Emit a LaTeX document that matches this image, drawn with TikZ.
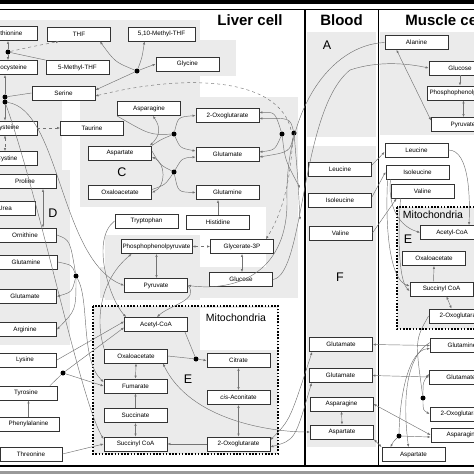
\documentclass[tikz,border=0pt]{standalone}
\usepackage{fontspec}
\setmainfont{Liberation Sans}
\usetikzlibrary{arrows.meta,calc}
\tikzset{
  box/.style={draw=black!80,fill=white,line width=0.9pt,minimum width=63pt,minimum height=14pt,inner sep=0.8pt,font=\fontsize{6.3}{7}\selectfont},
  dotn/.style={circle,fill=black,inner sep=0pt,minimum size=5pt},
  fl/.style={draw=black!55,line width=0.45pt},
  bg/.style={fill=black!8,draw=none},
  lbl/.style={font=\fontsize{12.5}{13}\selectfont},
  ttl/.style={font=\fontsize{15}{16}\selectfont\bfseries},
  mito/.style={line width=1.6pt,dash pattern=on 1.6pt off 1.6pt},
  >={Latex[length=3pt,width=2.4pt]}
}
\begin{document}
\begin{tikzpicture}[x=1pt,y=-1pt]
\useasboundingbox (0,0) rectangle (474,474);
\clip (0,0) rectangle (474,474);
% shaded areas
\fill[bg] (0,20) rectangle (200,100);
\fill[bg] (150,40) rectangle (236,76);
\fill[bg] (0,100) rectangle (62,170);
\fill[bg] (80,97) rectangle (266,207);
\fill[bg] (0,170) rectangle (70,345);
\fill[bg] (105,235) rectangle (200,300);
\fill[bg] (100,267) rectangle (298,298);
\fill[bg] (266,97) rectangle (298,298);
\fill[bg] (93,306) rectangle (278,454);
\fill[white] (200,308) rectangle (277,350);
\fill[bg] (307,32) rectangle (376,137);
\fill[bg] (307,146) rectangle (376,447);
\fill[bg] (380,32) rectangle (474,135);
\fill[bg] (397,207) rectangle (474,329);
% frame
\fill (0,0) rectangle (474,4);
\draw[line width=1pt] (0,9.5) -- (474,9.5);
\draw[line width=1.2pt] (0,466) -- (474,466);
\fill[black!40] (0,470.5) rectangle (474,474);
\draw[line width=1.2pt] (305,9.5) -- (305,466);
\draw[line width=1.2pt] (378.5,9.5) -- (378.5,466);
\node[ttl] (liver) at (250,20) {Liver cell};
\node[ttl] (blood) at (341.5,20) {Blood};
\node[ttl] (muscle) at (445.5,20) {Muscle cell};
\draw[mito] (93,306) rectangle (278,454);
\draw[mito] (397,207) rectangle (480,329);
\node[font=\fontsize{10.5}{11}\selectfont] (mitoL) at (236,318) {Mitochondria};
\node[font=\fontsize{10.5}{11}\selectfont] (mitoM) at (433,215) {Mitochondria};
\node[lbl] (labA) at (327,45) {A};
\node[lbl] (labC) at (122,172) {C};
\node[lbl] (labD) at (53,213) {D};
\node[lbl] (labE) at (188,379) {E};
\node[lbl] (labF) at (340,277) {F};
\node[lbl] (labE2) at (408,239) {E};
% liver
\node[box,minimum width=60pt] (met) at (7,33.5) {Methionine};
\node[box] (thf) at (79,34) {THF};
\node[box,minimum width=67pt] (mthf) at (161.5,34) {5,10-Methyl-THF};
\node[box,minimum width=60pt] (hcy) at (7,67.5) {Homocysteine};
\node[box] (fmthf) at (77.5,67.5) {5-Methyl-THF};
\node[box] (gly) at (187.5,64) {Glycine};
\node[box] (ser) at (63.5,93) {Serine};
\node[box,minimum width=60pt] (cys) at (7,128) {Cysteine};
\node[box] (tau) at (92,128) {Taurine};
\node[box,minimum width=60pt] (cyss) at (7,158.5) {Cystine};
\node[box] (asn) at (149,108.5) {Asparagine};
\node[box] (akg) at (227.5,115.5) {2-Oxoglutarate};
\node[box] (glu) at (227.5,154) {Glutamate};
\node[box] (asp) at (120,153) {Aspartate};
\node[box] (oaa) at (120,192.5) {Oxaloacetate};
\node[box] (gln) at (227.5,192.5) {Glutamine};
\node[box] (pro) at (25,181.5) {Proline};
\node[box,minimum width=60pt] (urea) at (5,208) {Urea};
\node[box] (orn) at (25,235) {Ornithine};
\node[box] (glnD) at (26,262) {Glutamine};
\node[box] (gluD) at (25,296.5) {Glutamate};
\node[box] (trp) at (146.5,221) {Tryptophan};
\node[box] (his) at (218,222) {Histidine};
\node[box,minimum width=71pt,inner sep=0.3pt] (pep) at (156.5,246.5) {Phosphophenolpyruvate};
\node[box] (g3p) at (242,246.5) {Glycerate-3P};
\node[box] (glc) at (241,279.5) {Glucose};
\node[box] (pyr) at (156,285.5) {Pyruvate};
\node[box] (arg) at (25,329.5) {Arginine};
\node[box] (lys) at (25,360) {Lysine};
\node[box] (tyr) at (26,393) {Tyrosine};
\node[box,minimum width=61pt] (phe) at (28.5,424) {Phenylalanine};
\node[box,minimum width=62pt] (thr) at (31,454) {Threonine};
% liver mitochondria
\node[box] (accoa) at (156,324.5) {Acetyl-CoA};
\node[box] (oaaM) at (136,356) {Oxaloacetate};
\node[box] (cit) at (238.5,360.5) {Citrate};
\node[box] (fum) at (135.5,386) {Fumarate};
\node[box] (cisa) at (238.5,397.5) {\textit{cis}-Aconitate};
\node[box] (succ) at (135.5,415.5) {Succinate};
\node[box] (succoa) at (135.5,444) {Succinyl CoA};
\node[box] (akgM) at (238.5,444) {2-Oxoglutarate};
% blood
\node[box] (leuB) at (340,169) {Leucine};
\node[box] (ileB) at (340,200) {Isoleucine};
\node[box] (valB) at (340.5,233) {Valine};
\node[box] (gluB1) at (341,344.5) {Glutamate};
\node[box] (gluB2) at (340.5,375.5) {Glutamate};
\node[box] (asnB) at (341.5,404) {Asparagine};
\node[box] (aspB) at (342,432) {Aspartate};
% muscle
\node[box] (alaM) at (416.5,42.5) {Alanine};
\node[box,minimum width=62pt] (glcM) at (460,68) {Glucose};
\node[box,minimum width=73pt] (pepM) at (463.5,93) {Phosphophenolpyruvate};
\node[box] (pyrM) at (463,124.5) {Pyruvate};
\node[box] (leuM) at (416.5,150) {Leucine};
\node[box] (ileM) at (417.5,172) {Isoleucine};
\node[box] (valM) at (422.5,191) {Valine};
\node[box] (accoaM) at (452,232.5) {Acetyl-CoA};
\node[box] (oaaMM) at (434,258.5) {Oxaloacetate};
\node[box] (succoaM) at (441.5,289) {Succinyl CoA};
\node[box] (akgMM) at (460.5,316) {2-Oxoglutarate};
\node[box] (glnM) at (462,345.5) {Glutamine};
\node[box] (gluM) at (461,377) {Glutamate};
\node[box] (akgM2) at (461.5,414) {2-Oxoglutarate};
\node[box] (asnM) at (462.5,435) {Asparagine};
\node[box] (aspM) at (413.5,454.5) {Aspartate};
% junctions
\node[dotn] (d1) at (8,52) {};
\node[dotn] (d2) at (137,71) {};
\node[dotn] (d3) at (5,97) {};
\node[dotn] (d4) at (5,102) {};
\node[dotn] (d5) at (174,134) {};
\node[dotn] (d6) at (282,134) {};
\node[dotn] (d7) at (294,133) {};
\node[dotn] (d8) at (76,276) {};
\node[dotn] (d9) at (174,172) {};
\node[dotn] (d10) at (63,373) {};
\node[dotn] (d11) at (196,359) {};
\node[dotn] (d12) at (423,398) {};
\node[dotn] (d13) at (399,436) {};
% connectors, liver
\draw[fl,<-] (met.south -| d1) -- (d1);
\draw[fl,->] (d1) -- (hcy.north -| d1);
\draw[fl,->,dashed] (d1) .. controls (30,47) .. ($(thf.south west)+(12,0)$);
\draw[fl] (d1) -- (fmthf.north west);
\draw[fl,<-] (hcy.south -| d3) -- (d3);
\draw[fl] (d3) -- (ser.west);
\draw[fl] (d3) -- (d4);
\draw[fl,->] (d4) -- (cys.north -| d4);
\draw[fl,<->,dashed] (cys.south -| d4) -- (cyss.north -| d4);
\draw[fl,->,dashed] (cys.east) -- (tau.west);
\draw[fl,->] (d2) .. controls (115,62) .. ($(thf.south)+(21,0)$);
\draw[fl,->] (d2) .. controls (142,58) .. ($(mthf.south)+(-17,0)$);
\draw[fl,->] (d2) -- ($(ser.east)+(0,-3)$);
\draw[fl,->] (d2) -- (gly.west);
\draw[fl,<->,dashed] ($(ser.east)+(0,3)$) .. controls (200,70) and (300,80) .. (292,150) .. controls (288,200) and (275,225) .. ($(g3p.north east)+(-8,0)$);
\draw[fl,->] (d4) .. controls (60,110) and (60,260) .. (pyr.west);
\draw[fl,<->] ($(asn.south)+(4,0)$) .. controls +(8,12) and +(10,-10) .. ($(asp.north)+(30,0)$);
\draw[fl,<->] ($(asp.east)+(0,4)$) .. controls +(14,6) and +(14,-6) .. (oaa.east);
\draw[fl] (asn.south west) .. controls (150,135) .. (d5);
\draw[fl] (asp.north east) .. controls (160,140) .. (d5);
\draw[fl,->] (d5) .. controls (178,117) .. (akg.west);
\draw[fl,->] (d5) .. controls (180,148) .. ($(glu.west)+(0,-3)$);
\draw[fl] ($(asp.east)+(0,-2)$) .. controls (160,165) .. (d9);
\draw[fl] ($(oaa.east)+(0,-3)$) .. controls (165,185) .. (d9);
\draw[fl,->] (d9) .. controls (182,158) .. ($(glu.west)+(0,3)$);
\draw[fl,->] (d9) .. controls (178,192) .. (gln.west);
\draw[fl,<-] ($(akg.east)+(0,-3)$) .. controls (275,112) .. (d6);
\draw[fl,<-] ($(glu.east)+(0,-2)$) .. controls (275,150) .. (d6);
\draw[fl,<-] ($(akg.east)+(0,3)$) .. controls (290,118) .. (d7);
\draw[fl,<-] ($(glu.east)+(0,3)$) .. controls (290,152) .. (d7);
\draw[fl,->] (d6) .. controls (285,160) .. (300,188);
\draw[fl,->] (d7) .. controls (298,180) .. (300,220);
\draw[fl,->] (his.north) -- (his.north |- gln.south);
\draw[fl,<->,dashed] (pep.east) -- (g3p.west);
\draw[fl,<->] (g3p.south) -- (g3p.south |- glc.north);
\draw[fl,<->] (pep.south) -- (pep.south |- pyr.north);
\draw[fl,<->] ($(pro.south)+(18,0)$) -- ($(orn.north)+(18,0)$);
\draw[fl] (orn.east) .. controls (70,240) .. (d8);
\draw[fl] (glnD.east) .. controls (72,265) .. (d8);
\draw[fl,->] (d8) .. controls (72,292) .. (gluD.east);
\draw[fl,->] (d8) .. controls (76,310) .. (arg.east);
\draw[fl,->] (oaaM.north west) .. controls (95,320) and (100,280) .. ($(pep.south west)+(11,0)$);
\draw[fl,->] (trp.west) .. controls (90,240) and (110,300) .. ($(accoa.north west)+(2,0)$);
\draw[fl,->] (d8) .. controls (90,300) and (80,360) .. ($(fum.west)+(0,-4)$);
\draw[fl,->] (d4) .. controls (40,200) and (80,400) .. ($(succoa.west)+(0,-5)$);
\draw[fl,->] (pyr.east) .. controls (200,300) and (170,305) .. ($(accoa.north)+(1,0)$);
% liver mitochondria
\draw[fl] ($(accoa.south east)+(-3,0)$) -- (d11);
\draw[fl] (oaaM.east) -- (d11);
\draw[fl,->] (d11) -- (cit.west);
\draw[fl,<->] (cit.south) -- (cisa.north);
\draw[fl,<->] (cisa.south) -- (akgM.north);
\draw[fl,->] (akgM.west) -- (succoa.east);
\draw[fl,<->] (succoa.north) -- (succ.south);
\draw[fl,->] (succ.north) -- (fum.south);
\draw[fl,<->] (fum.north) -- (oaaM.south);
\draw[fl,->] (lys.east) -- ($(accoa.west)+(0,-3)$);
\draw[fl] ($(tyr.north)+(24,0)$) -- (d10);
\draw[fl,->] (d10) -- ($(accoa.west)+(0,3)$);
\draw[fl,->] (d10) -- (fum.west);
\draw[fl,->] (phe.north) -- (phe.north |- tyr.south);
\draw[fl,->] (thr.east) -- (succoa.west);
\draw[fl,<->] ($(oaaM.south east)+(-5,0)$) .. controls (190,420) and (270,432) .. (aspB.west);
\draw[fl,<->] ($(akgM.east)+(0,-4)$) .. controls (290,420) .. ($(gluB1.south west)+(3,0)$);
\draw[fl,<->] ($(akgM.east)+(0,3)$) .. controls (295,440) .. ($(gluB2.south west)+(3,0)$);
% between organs
\draw[fl,->] (glc.east) .. controls (305,275) and (300,110) .. (350,70) .. controls (380,60) and (410,64) .. (glcM.west);
\draw[fl,->] (alaM.west) .. controls (330,45) and (285,110) .. (287,200) .. controls (288,270) and (240,292) .. (pyr.east);
\draw[fl,->] ($(leuB.east)+(0,-4)$) -- ($(leuM.west)+(0,2)$);
\draw[fl,->] ($(ileB.east)+(0,-3)$) -- (ileM.west);
\draw[fl,->] (valB.east) -- ($(valM.south west)+(6,0)$);
\draw[fl,<->] (gluB1.east) -- (glnM.west);
\draw[fl,<->] (gluB2.east) -- (gluM.west);
\draw[fl,<->] (asnB.east) -- (asnM.west);
\draw[fl,<->] (asnB.south) -- (aspB.north);
\draw[fl,<->] (aspB.south east) -- (aspM.north west);
% muscle
\draw[fl,<->] ($(alaM.south west)+(12,0)$) -- ($(pyrM.west)+(0,-4)$);
\draw[fl,->] (glcM.south) -- (glcM.south |- pepM.north);
\draw[fl,<->] (pepM.south) -- (pepM.south |- pyrM.north);
\draw[fl,->] (leuM.east) .. controls (470,150) and (470,200) .. ($(accoaM.north)+(17,0)$);
\draw[fl,->] ($(ileM.south west)+(5,0)$) .. controls (388,200) and (395,225) .. (accoaM.west);
\draw[fl,->] ($(ileM.south west)+(2,0)$) .. controls (385,230) and (390,280) .. ($(succoaM.west)+(0,-3)$);
\draw[fl,->] ($(valM.south west)+(10,0)$) .. controls (398,230) and (398,280) .. ($(succoaM.west)+(0,2)$);
\draw[fl,->] ($(succoaM.north)+(-8,0)$) -- (oaaMM.south);
\draw[fl,<->] ($(succoaM.south)+(5,0)$) -- ($(akgMM.north)+(-9,0)$);
\draw[fl] (akgMM.west) .. controls (415,340) .. (d12);
\draw[fl,->] (d12) .. controls (423,382) .. ($(gluM.west)+(0,-3)$);
\draw[fl,->] (d12) .. controls (423,410) .. (akgM2.west);
\draw[fl,->] (d13) -- ($(asnM.west)+(0,2)$);
\draw[fl,->] (d13) .. controls (393,442) .. ($(aspM.north west)+(9,0)$);
\draw[fl,->] (d13) .. controls (400,390) and (410,350) .. ($(glnM.west)+(0,3)$);
\draw[fl,->] ($(glnM.west)+(0,-3)$) .. controls (400,360) and (405,420) .. ($(aspM.north)+(-5,0)$);
\end{tikzpicture}
\end{document}
